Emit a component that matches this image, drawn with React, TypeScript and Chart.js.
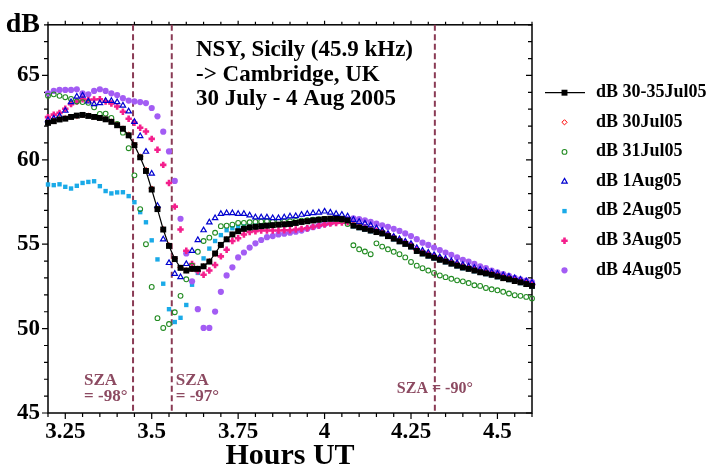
import React, { useEffect, useRef } from 'react';
import { Chart, registerables } from 'chart.js';
import { drawPoint } from 'chart.js/helpers';

Chart.register(...registerables);

const FONT = '"Liberation Serif", "Times New Roman", Times, serif';

// sampling grid: one value per minute, starting at 3.2 h UT
const startHour = 3.2;
const samplesPerHour = 60;

const xMin = 3.2;
const xMax = 4.6;
const yMin = 45;
const yMax = 68;
const xTickLabels = ['3.25', '3.5', '3.75', '4', '4.25', '4.5'];
const yTickLabels = ['45', '50', '55', '60', '65'];
const yAxisTitle = 'dB';
const xAxisTitle = 'Hours UT';
const titleLines = ['NSY, Sicily (45.9 kHz)', '-> Cambridge, UK', '30 July - 4 Aug 2005'];
const szaHours = [3.446, 3.558, 4.319];
const szaTexts = [['SZA', '= -98°'], ['SZA', '= -97°'], ['SZA = -90°']];
const seriesLabels = ['dB 30-35Jul05', 'dB 30Jul05', 'dB 31Jul05', 'dB 1Aug05', 'dB 2Aug05', 'dB 3Aug05', 'dB 4Aug05'];

const dB_30_35Jul05 = [
  62.19, 62.29, 62.39, 62.44, 62.54, 62.62, 62.66, 62.60, 62.54, 62.48,
  62.40, 62.25, 62.05, 61.84, 61.45, 60.87, 60.15, 59.34, 58.24, 57.08,
  55.87, 54.90, 54.12, 53.60, 53.44, 53.54, 53.54, 53.69, 53.97, 54.45,
  54.96, 55.29, 55.58, 55.77, 55.91, 55.99, 56.03, 56.07, 56.10, 56.13,
  56.16, 56.18, 56.20, 56.26, 56.32, 56.36, 56.41, 56.45, 56.49, 56.51,
  56.51, 56.49, 56.41, 56.10, 56.00, 55.91, 55.81, 55.72, 55.64, 55.48,
  55.33, 55.17, 55.02, 54.86, 54.60, 54.45, 54.32, 54.20, 54.08, 53.97,
  53.85, 53.73, 53.62, 53.54, 53.44, 53.34, 53.27, 53.19, 53.09, 52.99,
  52.92, 52.82, 52.74, 52.64, 52.53,
];

const dB_30Jul05 = [
  62.22, 62.31, 62.40, 62.47, 62.55, 62.60, 62.64, 62.62, 62.55, 62.50,
  62.42, 62.27, 62.08, 61.86, 61.50, 60.90, 60.20, 59.40, 58.30, 57.10,
  55.90, 54.95, 54.15, 53.62, 53.46, 53.52, 53.56, 53.70, 54.00, 54.43,
  54.93, 55.30, 55.56, 55.76, 55.90, 55.98, 56.02, 56.06, 56.10, 56.12,
  56.15, 56.18, 56.21, 56.25, 56.30, 56.35, 56.40, 56.44, 56.48, 56.50,
  56.50, 56.47, 56.40, 56.12, 56.01, 55.92, 55.82, 55.73, 55.63, 55.49,
  55.34, 55.18, 55.03, 54.87, 54.62, 54.46, 54.33, 54.21, 54.09, 53.98,
  53.86, 53.74, 53.63, 53.55, 53.45, 53.35, 53.28, 53.20, 53.10, 53.00,
  52.93, 52.83, 52.75, 52.65, 52.54,
];

const dB_31Jul05 = [
  63.79, 63.88, 63.79, 63.71, 63.61, 63.46, 63.42, 63.38, 63.11, 62.72,
  62.74, 62.48, 62.13, 61.61, 60.69, 59.08, 57.08, 55.00, 52.47, 50.62,
  50.04, 50.27, 50.97, 51.94, 52.92, 53.73, 54.55, 55.19, 55.39, 55.68,
  56.07, 56.10, 56.16, 56.26, 56.26, 56.30, 56.32, 56.34, 56.36, 56.32,
  56.34, 56.34, 56.36, 56.38, 56.40, 56.42, 56.45, 56.48, 56.50, 56.50,
  56.50, 56.45, 56.20, 54.94, 54.70, 54.57, 54.41, 55.05, 54.86, 54.70,
  54.55, 54.41, 54.22, 53.95, 53.73, 53.58, 53.44, 53.30, 53.15, 53.05,
  52.95, 52.86, 52.80, 52.70, 52.57, 52.53, 52.41, 52.33, 52.27, 52.18,
  52.08, 51.98, 51.94, 51.88, 51.79,
];

const dB_1Aug05 = [
  62.35, 62.45, 62.60, 62.91, 63.42, 63.75, 63.81, 63.46, 63.30, 63.36,
  63.49, 63.49, 63.42, 63.22, 62.87, 62.25, 61.41, 60.48, 59.18, 57.27,
  55.29, 53.89, 53.25, 53.05, 53.83, 54.61, 55.25, 55.83, 56.30, 56.55,
  56.80, 56.84, 56.84, 56.80, 56.80, 56.71, 56.59, 56.59, 56.59, 56.55,
  56.55, 56.59, 56.65, 56.67, 56.75, 56.80, 56.84, 56.88, 56.94, 56.88,
  56.80, 56.75, 56.65, 56.45, 56.33, 56.23, 56.12, 55.95, 55.80, 55.62,
  55.45, 55.30, 55.16, 55.02, 54.78, 54.62, 54.50, 54.36, 54.24, 54.13,
  54.00, 53.88, 53.78, 53.69, 53.60, 53.50, 53.42, 53.34, 53.25, 53.16,
  53.08, 52.99, 52.90, 52.81, 52.72,
];

const dB_2Aug05 = [
  58.54, 58.50, 58.55, 58.40, 58.30, 58.46, 58.63, 58.69, 58.73, 58.44,
  58.15, 58.01, 58.07, 58.08, 57.85, 57.49, 56.90, 56.30, 55.23, 54.10,
  52.66, 51.15, 50.39, 50.64, 51.40, 52.60, 53.30, 54.16, 54.74, 55.19,
  55.54, 55.83, 55.95, 56.02, 56.06, 56.08, 56.10, 56.12, 56.13, 56.15,
  56.16, 56.17, 56.19, 56.24, 56.30, 56.33, 56.38, 56.42, 56.46, 56.48,
  56.48, 56.46, 56.38, 56.06, 55.96, 55.87, 55.77, 55.68, 55.60, 55.44,
  55.29, 55.13, 54.98, 54.82, 54.56, 54.41, 54.28, 54.16, 54.04, 53.93,
  53.81, 53.69, 53.58, 53.50, 53.40, 53.30, 53.23, 53.15, 53.05, 52.95,
  52.88, 52.78, 52.70, 52.60, 52.49,
];

const dB_3Aug05 = [
  62.53, 62.68, 62.78, 63.03, 63.30, 63.46, 63.59, 63.55, 63.57, 63.59,
  63.46, 63.34, 63.16, 62.85, 62.43, 62.20, 61.90, 61.68, 61.24, 60.60,
  59.70, 58.63, 57.23, 55.87, 54.61, 53.83, 53.40, 53.19, 53.44, 53.77,
  54.28, 54.67, 55.19, 55.35, 55.58, 55.72, 55.77, 55.81, 55.81, 55.81,
  55.81, 55.83, 55.83, 55.87, 55.91, 55.95, 56.03, 56.10, 56.16, 56.22,
  56.26, 56.28, 56.30, 56.20, 56.08, 55.99, 55.90, 55.80, 55.72, 55.57,
  55.42, 55.26, 55.10, 54.95, 54.69, 54.53, 54.41, 54.28, 54.16, 54.05,
  53.93, 53.81, 53.70, 53.62, 53.52, 53.42, 53.35, 53.27, 53.17, 53.07,
  53.00, 52.90, 52.82, 52.72, 52.61,
];

const dB_4Aug05 = [
  63.94, 64.08, 64.14, 64.14, 64.14, 64.18, 63.94, 63.88, 64.08, 64.18,
  64.08, 63.94, 63.84, 63.65, 63.51, 63.46, 63.42, 63.36, 63.07, 62.58,
  61.67, 60.50, 58.75, 56.51, 54.45, 52.80, 51.15, 50.04, 50.04, 51.01,
  52.18, 53.15, 53.63, 54.22, 54.51, 54.80, 55.05, 55.25, 55.42, 55.48,
  55.58, 55.62, 55.68, 55.74, 55.81, 55.91, 56.01, 56.10, 56.18, 56.26,
  56.34, 56.42, 56.49, 56.53, 56.49, 56.42, 56.32, 56.22, 56.12, 56.03,
  55.91, 55.79, 55.64, 55.48, 55.30, 55.09, 54.96, 54.80, 54.65, 54.51,
  54.37, 54.22, 54.08, 53.97, 53.83, 53.69, 53.58, 53.44, 53.34, 53.23,
  53.13, 53.01, 52.92, 52.84, 52.76,
];

const seriesValues = [dB_30_35Jul05, dB_30Jul05, dB_31Jul05, dB_1Aug05, dB_2Aug05, dB_3Aug05, dB_4Aug05];

type Style = { pointStyle: any; radius: number; fill: string; stroke: string; bw: number; order: number; line?: boolean };
const styles: Style[] = [
  { pointStyle: 'rect', radius: 4.2, fill: '#000000', stroke: '#000000', bw: 0, order: 0, line: true },
  { pointStyle: 'rectRot', radius: 2.6, fill: 'rgba(0,0,0,0)', stroke: '#ff0000', bw: 1, order: 6 },
  { pointStyle: 'circle', radius: 2.4, fill: 'rgba(0,0,0,0)', stroke: '#228b22', bw: 1.1, order: 2 },
  { pointStyle: 'triangle', radius: 3.1, fill: 'rgba(0,0,0,0)', stroke: '#0000d0', bw: 1.2, order: 1 },
  { pointStyle: 'rect', radius: 3.1, fill: '#1aaae8', stroke: '#1aaae8', bw: 0, order: 5 },
  { pointStyle: 'cross', radius: 3.2, fill: '#f41f8c', stroke: '#f41f8c', bw: 2.6, order: 3 },
  { pointStyle: 'circle', radius: 3.1, fill: '#a35cf4', stroke: '#a35cf4', bw: 0, order: 4 },
];

const SZA_LINE = '#8a3b55';
const SZA_TEXT = '#8c4a61';

const framePlugin = {
  id: 'frameTicks',
  beforeDatasetsDraw(chart: any) {
    const { ctx, chartArea: a, scales } = chart;
    const x = scales.x;
    const y = scales.y;
    ctx.save();
    ctx.strokeStyle = '#000';
    ctx.lineWidth = 1.5;
    ctx.strokeRect(a.left, a.top, a.right - a.left, a.bottom - a.top);
    ctx.lineWidth = 1.2;
    ctx.beginPath();
    x.ticks.forEach((t: any) => {
      const px = x.getPixelForValue(t.value);
      const major = !!t.label;
      ctx.moveTo(px, a.bottom);
      ctx.lineTo(px, a.bottom + (major ? 6 : 4));
      ctx.moveTo(px, a.top);
      ctx.lineTo(px, a.top - (major ? 4 : 3));
    });
    y.ticks.forEach((t: any) => {
      const py = y.getPixelForValue(t.value);
      const major = t.value % 5 === 0;
      ctx.moveTo(a.left, py);
      ctx.lineTo(a.left - (major ? 6 : 4), py);
      ctx.moveTo(a.right, py);
      ctx.lineTo(a.right - (major ? 6 : 4), py);
    });
    ctx.stroke();
    // SZA markers
    ctx.strokeStyle = SZA_LINE;
    ctx.lineWidth = 2;
    ctx.setLineDash([6, 3.5]);
    szaHours.forEach((h) => {
      const px = x.getPixelForValue(h);
      ctx.beginPath();
      ctx.moveTo(px, a.top);
      ctx.lineTo(px, a.bottom);
      ctx.stroke();
    });
    ctx.restore();
  },
};

const textPlugin = {
  id: 'texts',
  afterDatasetsDraw(chart: any) {
    const { ctx, scales } = chart;
    const x = scales.x;
    ctx.save();
    // title block
    ctx.fillStyle = '#000';
    ctx.font = `bold 23px ${FONT}`;
    ctx.textAlign = 'left';
    ctx.textBaseline = 'alphabetic';
    titleLines.forEach((line, i) => ctx.fillText(line, 196, 56 + i * 24.7));
    // SZA labels
    ctx.fillStyle = SZA_TEXT;
    ctx.font = `bold 17px ${FONT}`;
    const p0 = x.getPixelForValue(szaHours[0]);
    const p1 = x.getPixelForValue(szaHours[1]);
    const p2 = x.getPixelForValue(szaHours[2]);
    ctx.textAlign = 'left';
    szaTexts[0].forEach((s, i) => ctx.fillText(s, p0 - 49, 385 + i * 16));
    szaTexts[1].forEach((s, i) => ctx.fillText(s, p1 + 4, 385 + i * 16));
    ctx.font = `bold 16px ${FONT}`;
    ctx.textAlign = 'center';
    ctx.fillText(szaTexts[2][0], p2, 393);
    ctx.restore();
  },
};

const legendPlugin = {
  id: 'sideLegend',
  afterDraw(chart: any) {
    const { ctx } = chart;
    ctx.save();
    seriesLabels.forEach((label, i) => {
      const st = styles[i];
      const cy = 92.7 + i * 29.6;
      const cx = 564.5;
      if (st.line) {
        ctx.strokeStyle = st.stroke;
        ctx.lineWidth = 1.3;
        ctx.beginPath();
        ctx.moveTo(545, cy);
        ctx.lineTo(585, cy);
        ctx.stroke();
      }
      ctx.fillStyle = st.fill;
      ctx.strokeStyle = st.stroke;
      ctx.lineWidth = st.bw;
      drawPoint(ctx, { pointStyle: st.pointStyle, radius: st.radius, borderWidth: st.bw, rotation: 0 } as any, cx, cy);
      ctx.fillStyle = '#000';
      ctx.font = `bold 18px ${FONT}`;
      ctx.textAlign = 'left';
      ctx.textBaseline = 'alphabetic';
      ctx.fillText(label, 596, cy + 4.2);
    });
    ctx.restore();
  },
};

export default function App() {
  const ref = useRef<HTMLCanvasElement>(null);
  useEffect(() => {
    const canvas = ref.current;
    if (!canvas) return;
    const toPoints = (vals: number[]) => vals.map((v, i) => ({ x: startHour + i / samplesPerHour, y: v }));
    const datasets = seriesValues.map((vals, i) => {
      const st = styles[i];
      return {
        label: seriesLabels[i],
        data: toPoints(vals),
        showLine: !!st.line,
        borderColor: st.stroke,
        backgroundColor: st.fill,
        borderWidth: st.line ? 1.2 : 0,
        pointStyle: st.pointStyle,
        pointRadius: st.radius,
        pointHoverRadius: st.radius,
        pointBackgroundColor: st.fill,
        pointBorderColor: st.stroke,
        pointBorderWidth: st.bw,
        tension: 0,
        order: st.order,
        clip: false as any,
      };
    });
    const xTicks: number[] = [];
    for (let k = 0; k <= 28; k++) xTicks.push(Math.round((xMin + k * 0.05) * 100) / 100);
    const yTicks: number[] = [];
    for (let v = yMin; v <= yMax; v++) yTicks.push(v);

    const chart = new Chart(canvas, {
      type: 'scatter',
      data: { datasets: datasets as any },
      options: {
        animation: false,
        responsive: false,
        devicePixelRatio: 1,
        events: [],
        layout: { padding: { left: 0, top: 19, right: 181, bottom: 0 } },
        plugins: { legend: { display: false }, tooltip: { enabled: false }, title: { display: false } },
        scales: {
          x: {
            type: 'linear',
            min: xMin,
            max: xMax,
            afterBuildTicks: (s: any) => { s.ticks = xTicks.map((v) => ({ value: v })); },
            afterFit: (s: any) => { s.height = 58; },
            grid: { display: false, drawTicks: false },
            border: { display: false },
            ticks: {
              autoSkip: false,
              maxRotation: 0,
              minRotation: 0,
              padding: 5,
              color: '#000',
              font: { family: FONT, size: 23, weight: 'bold' },
              callback: (v: any) => { const s = String(Number(v)); return xTickLabels.includes(s) ? s : ''; },
            },
            title: {
              display: true,
              text: xAxisTitle,
              color: '#000',
              font: { family: FONT, size: 30, weight: 'bold', lineHeight: 1.0 },
              padding: { top: 0, bottom: 0 },
            },
          },
          y: {
            type: 'linear',
            min: yMin,
            max: yMax,
            afterBuildTicks: (s: any) => { s.ticks = yTicks.map((v) => ({ value: v })); },
            afterFit: (s: any) => { s.width = 48; },
            grid: { display: false, drawTicks: false },
            border: { display: false },
            ticks: {
              autoSkip: false,
              padding: 8,
              color: '#000',
              font: (c: any) => (c.tick && c.tick.value === yMax
                ? { family: FONT, size: 28, weight: 'bold' }
                : { family: FONT, size: 23, weight: 'bold' }) as any,
              callback: (v: any) => {
                if (Number(v) === yMax) return yAxisTitle;
                const s = String(Number(v));
                return yTickLabels.includes(s) ? s : '';
              },
            },
          },
        },
      } as any,
      plugins: [framePlugin, textPlugin, legendPlugin],
    });
    return () => chart.destroy();
  }, []);
  return (
    <div style={{ position: 'absolute', left: 0, top: 0, width: 713, height: 471, background: '#fff' }}>
      <canvas ref={ref} width={713} height={471} style={{ display: 'block' }} />
    </div>
  );
}
